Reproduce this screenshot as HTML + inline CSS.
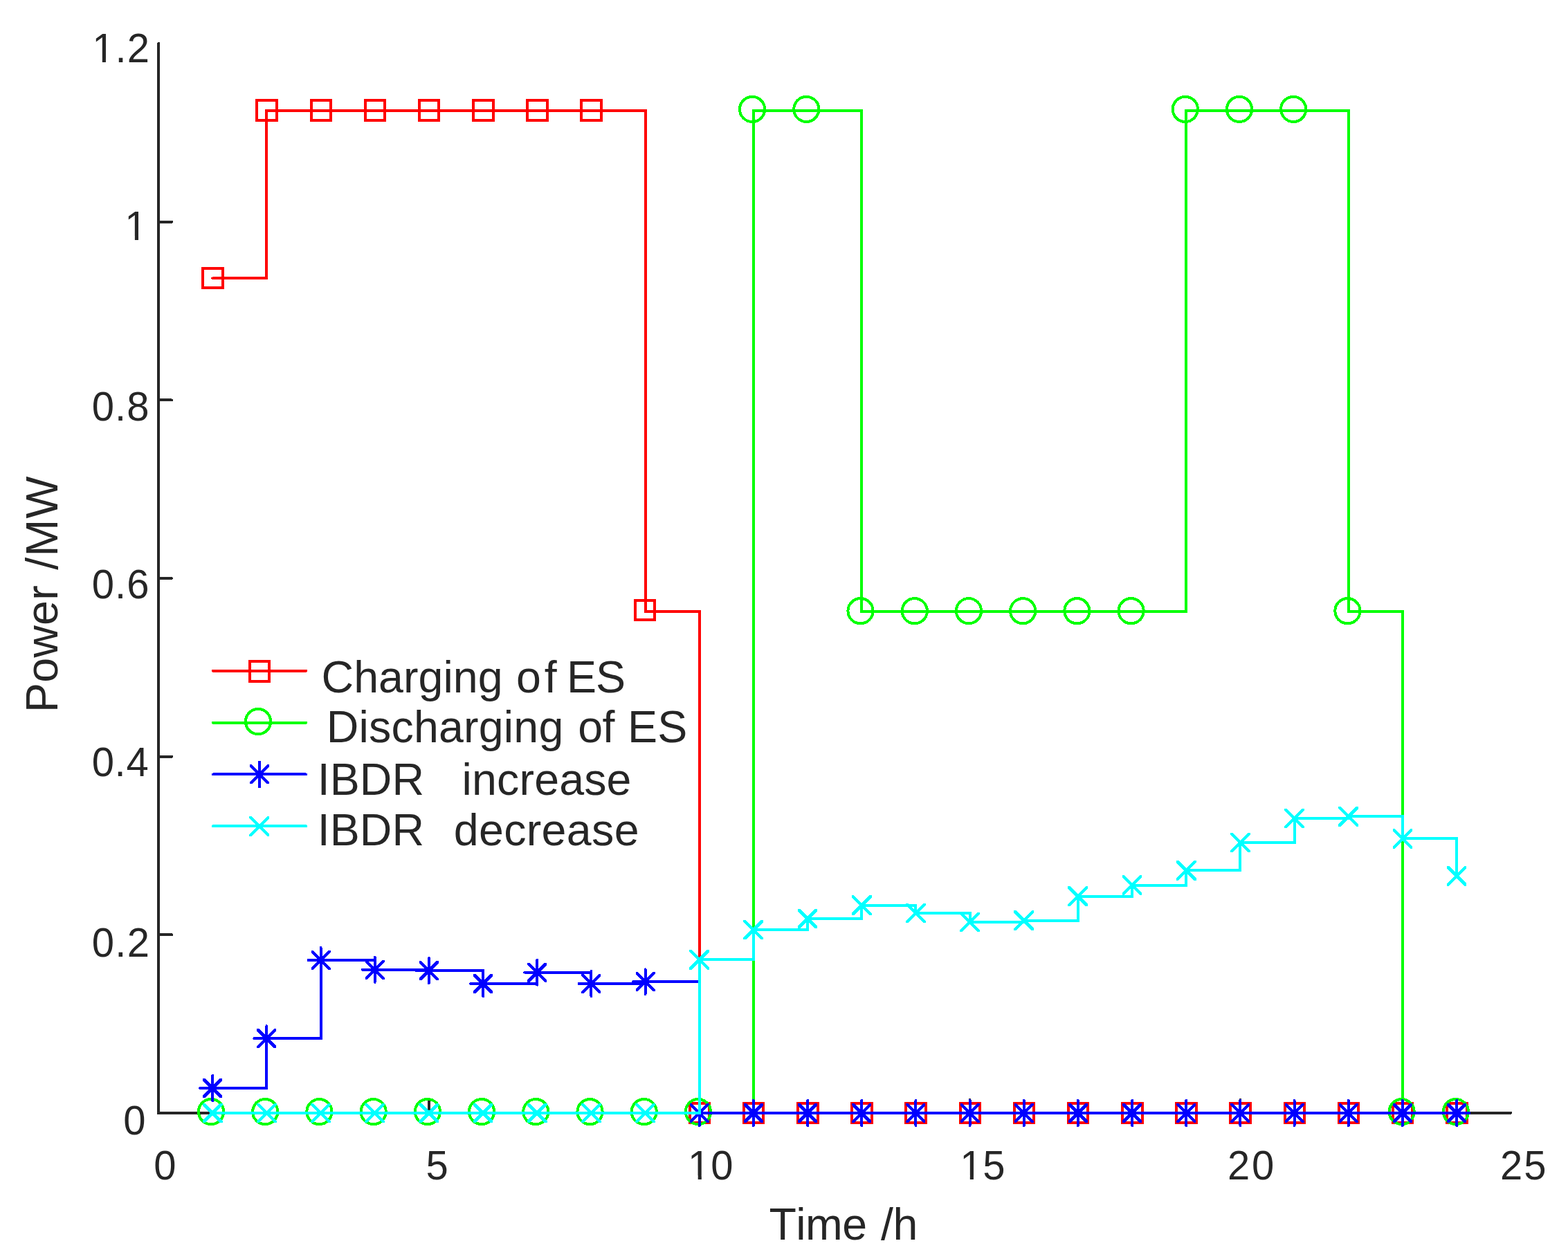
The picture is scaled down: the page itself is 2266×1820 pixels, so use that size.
<!DOCTYPE html>
<html lang="en">
<head>
<meta charset="utf-8">
<title>Power vs Time - ES charging/discharging and IBDR</title>
<style>
html,body{margin:0;padding:0;background:#fff;}
body{width:2266px;height:1820px;overflow:hidden;}
svg{display:block;}
text{font-family:"Liberation Sans","DejaVu Sans",sans-serif;fill:#262626;font-kerning:none;white-space:pre;}
.tk{font-size:59.5px;}
.lb{font-size:64.5px;}
</style>
</head>
<body>
<svg width="2266" height="1820" viewBox="0 0 2266 1820">
<rect x="0" y="0" width="2266" height="1820" fill="#ffffff"/>
<defs>
<rect id="msq" x="-14.2" y="-14.0" width="28.4" height="28.0" fill="none" stroke="currentColor" stroke-width="4.0"/>
<rect id="msq2" x="-14.2" y="-14.9" width="28.4" height="29.0" fill="none" stroke="currentColor" stroke-width="4.0"/>
<circle id="mci" cx="0" cy="0" r="18.1" fill="none" stroke="currentColor" stroke-width="4.0"/>
<path id="dgx" fill="currentColor" stroke="none" d="M-14.4,-14.4 L-11.2,-14.4 L14.4,11.2 L14.4,14.4 L11.2,14.4 L-14.4,-11.2 Z M14.4,-14.4 L14.4,-11.2 L-11.2,14.4 L-14.4,14.4 L-14.4,11.2 L11.2,-14.4 Z"/>
<path id="dga" fill="currentColor" stroke="none" d="M-14,-14 L-10.8,-14 L14,10.8 L14,14 L10.8,14 L-14,-10.8 Z M14,-14 L14,-10.8 L-10.8,14 L-14,14 L-14,10.8 L10.8,-14 Z"/>
<g id="mxx"><use href="#dgx"/></g>
<g id="mas"><path d="M0,-18 L0,18 M-18,0 L18,0" fill="none" stroke="currentColor" stroke-width="4.0" stroke-linecap="round"/><use href="#dga"/></g>
</defs>

<g id="axes" stroke="#262626" stroke-width="4" fill="none" stroke-linecap="round" shape-rendering="crispEdges">
<path d="M229.0,63 L229.0,1609.0 L2183,1609.0" stroke-linejoin="miter"/>
<path d="M229.0,1351.34 L248.00,1351.34"/>
<path d="M229.0,1093.68 L248.00,1093.68"/>
<path d="M229.0,836.02 L248.00,836.02"/>
<path d="M229.0,578.36 L248.00,578.36"/>
<path d="M229.0,320.70 L248.00,320.70"/>
<path d="M619.85,1609.0 L619.85,1590.0"/>
<path d="M1010.7,1609.0 L1010.7,1590.0"/>
<path d="M1401.55,1609.0 L1401.55,1590.0"/>
<path d="M1792.4,1609.0 L1792.4,1590.0"/>
</g>
<g id="yticks">
<text class="tk" transform="translate(133.22,89.90) scale(0.975,1)" letter-spacing="1.155">1.2</text><rect x="134.92" y="84.85" width="12.89" height="6.05" fill="#ffffff"/><rect x="152.93" y="84.85" width="12.01" height="6.05" fill="#ffffff"/>
<text class="tk" transform="translate(180.28,346.70) scale(0.975,1)">1</text><rect x="181.98" y="341.65" width="12.89" height="6.05" fill="#ffffff"/><rect x="200.00" y="341.65" width="12.01" height="6.05" fill="#ffffff"/>
<text class="tk" transform="translate(132.63,607.60) scale(0.975,1)" letter-spacing="1.150">0.8</text>
<text class="tk" transform="translate(132.63,864.60) scale(0.975,1)" letter-spacing="1.164">0.6</text>
<text class="tk" transform="translate(132.63,1121.60) scale(0.975,1)" letter-spacing="0.728">0.4</text>
<text class="tk" transform="translate(132.63,1382.80) scale(0.975,1)" letter-spacing="1.353">0.2</text>
<text class="tk" transform="translate(178.32,1639.50) scale(0.975,1)" letter-spacing="0.000">0</text>
</g>
<g id="xticks">
<text class="tk" transform="translate(222.37,1704.60) scale(0.975,1)" letter-spacing="0.000">0</text>
<text class="tk" transform="translate(615.42,1704.60) scale(0.975,1)" letter-spacing="0.000">5</text>
<text class="tk" transform="translate(994.12,1704.60) scale(0.975,1)" letter-spacing="0.891">10</text><rect x="995.82" y="1699.55" width="12.89" height="6.05" fill="#ffffff"/><rect x="1013.83" y="1699.55" width="12.01" height="6.05" fill="#ffffff"/>
<text class="tk" transform="translate(1387.22,1704.60) scale(0.975,1)" letter-spacing="0.912">15</text><rect x="1388.92" y="1699.55" width="12.89" height="6.05" fill="#ffffff"/><rect x="1406.93" y="1699.55" width="12.01" height="6.05" fill="#ffffff"/>
<text class="tk" transform="translate(1773.98,1704.60) scale(0.975,1)" letter-spacing="2.929">20</text>
<text class="tk" transform="translate(2167.88,1704.60) scale(0.975,1)" letter-spacing="2.129">25</text>
</g>
<text class="lb" y="1792.0"><tspan x="1111.45" letter-spacing="-0.572">Time</tspan><tspan letter-spacing="0"> </tspan><tspan x="1273.10" letter-spacing="-0.603">/h</tspan></text>
<text class="lb" transform="translate(83.0,1024.7) rotate(-90)" y="0"><tspan x="-5.29" letter-spacing="0.210">Power</tspan><tspan letter-spacing="0"> </tspan><tspan x="200.90" letter-spacing="1.347">/MW</tspan></text>
<g id="charging" shape-rendering="crispEdges">
<path d="M307.17,402.30 L385.34,402.30 L385.34,160.10 L463.51,160.10 L541.68,160.10 L619.85,160.10 L698.02,160.10 L776.19,160.10 L854.36,160.10 L932.53,160.10 L932.53,884.20 L1010.70,884.20 L1010.70,1609.00 L1088.87,1609.00 L1167.04,1609.00 L1245.21,1609.00 L1323.38,1609.00 L1401.55,1609.00 L1479.72,1609.00 L1557.89,1609.00 L1636.06,1609.00 L1714.23,1609.00 L1792.40,1609.00 L1870.57,1609.00 L1948.74,1609.00 L2026.91,1609.00 L2105.08,1609.00" fill="none" stroke="#ff0000" stroke-width="4.0" stroke-linejoin="miter" stroke-linecap="round"/>
<g color="#ff0000">
<use href="#msq" x="307.47" y="402.10"/>
<use href="#msq2" x="385.64" y="159.90"/>
<use href="#msq2" x="463.81" y="159.90"/>
<use href="#msq2" x="541.98" y="159.90"/>
<use href="#msq2" x="620.15" y="159.90"/>
<use href="#msq2" x="698.32" y="159.90"/>
<use href="#msq2" x="776.49" y="159.90"/>
<use href="#msq2" x="854.66" y="159.90"/>
<use href="#msq" x="931.83" y="881.50"/>
<use href="#msq" x="1011.00" y="1608.80"/>
<use href="#msq" x="1089.17" y="1608.80"/>
<use href="#msq" x="1167.34" y="1608.80"/>
<use href="#msq" x="1245.51" y="1608.80"/>
<use href="#msq" x="1323.68" y="1608.80"/>
<use href="#msq" x="1401.85" y="1608.80"/>
<use href="#msq" x="1480.02" y="1608.80"/>
<use href="#msq" x="1558.19" y="1608.80"/>
<use href="#msq" x="1636.36" y="1608.80"/>
<use href="#msq" x="1714.53" y="1608.80"/>
<use href="#msq" x="1792.70" y="1608.80"/>
<use href="#msq" x="1870.87" y="1608.80"/>
<use href="#msq" x="1949.04" y="1608.80"/>
<use href="#msq" x="2027.21" y="1608.80"/>
<use href="#msq" x="2105.38" y="1608.80"/>
</g></g>
<g id="discharging" shape-rendering="crispEdges">
<path d="M307.17,1609.00 L385.34,1609.00 L463.51,1609.00 L541.68,1609.00 L619.85,1609.00 L698.02,1609.00 L776.19,1609.00 L854.36,1609.00 L932.53,1609.00 L1010.70,1609.00 L1088.87,1609.00 L1088.87,160.20 L1167.04,160.20 L1245.21,160.20 L1245.21,884.30 L1323.38,884.30 L1401.55,884.30 L1479.72,884.30 L1557.89,884.30 L1636.06,884.30 L1714.23,884.30 L1714.23,160.20 L1792.40,160.20 L1870.57,160.20 L1948.74,160.20 L1948.74,884.30 L2026.91,884.30 L2026.91,1609.00 L2105.08,1609.00" fill="none" stroke="#00ff00" stroke-width="4.0" stroke-linejoin="miter" stroke-linecap="round"/>
<g color="#00ff00">
<use href="#mci" x="305.02" y="1607.10"/>
<use href="#mci" x="383.23" y="1607.10"/>
<use href="#mci" x="461.44" y="1607.10"/>
<use href="#mci" x="539.65" y="1607.10"/>
<use href="#mci" x="617.86" y="1607.10"/>
<use href="#mci" x="696.07" y="1607.10"/>
<use href="#mci" x="774.29" y="1607.10"/>
<use href="#mci" x="852.50" y="1607.10"/>
<use href="#mci" x="930.71" y="1607.10"/>
<use href="#mci" x="1008.92" y="1607.10"/>
<use href="#mci" x="1087.13" y="157.90"/>
<use href="#mci" x="1165.34" y="157.90"/>
<use href="#mci" x="1243.55" y="883.20"/>
<use href="#mci" x="1321.76" y="883.20"/>
<use href="#mci" x="1399.97" y="883.20"/>
<use href="#mci" x="1478.18" y="883.20"/>
<use href="#mci" x="1556.40" y="883.20"/>
<use href="#mci" x="1634.61" y="883.20"/>
<use href="#mci" x="1712.82" y="157.90"/>
<use href="#mci" x="1791.03" y="157.90"/>
<use href="#mci" x="1869.24" y="157.90"/>
<use href="#mci" x="1947.45" y="883.20"/>
<use href="#mci" x="2025.66" y="1607.10"/>
<use href="#mci" x="2103.87" y="1607.10"/>
</g></g>
<g id="ibdr-increase" shape-rendering="crispEdges">
<path d="M307.17,1573.00 L385.34,1573.00 L385.34,1501.20 L463.51,1501.20 L463.51,1388.00 L541.68,1388.00 L541.68,1401.90 L619.85,1401.90 L619.85,1403.20 L698.02,1403.20 L698.02,1422.00 L776.19,1422.00 L776.19,1405.70 L854.36,1405.70 L854.36,1422.00 L932.53,1422.00 L932.53,1419.20 L1010.70,1419.20 L1010.70,1609.00 L1088.87,1609.00 L1167.04,1609.00 L1245.21,1609.00 L1323.38,1609.00 L1401.55,1609.00 L1479.72,1609.00 L1557.89,1609.00 L1636.06,1609.00 L1714.23,1609.00 L1792.40,1609.00 L1870.57,1609.00 L1948.74,1609.00 L2026.91,1609.00 L2105.08,1609.00" fill="none" stroke="#0000ff" stroke-width="4.0" stroke-linejoin="miter" stroke-linecap="round"/>
<g color="#0000ff">
<use href="#mas" x="307.17" y="1573.00"/>
<use href="#mas" x="385.34" y="1501.20"/>
<use href="#mas" x="463.51" y="1388.00"/>
<use href="#mas" x="541.68" y="1401.90"/>
<use href="#mas" x="619.85" y="1403.20"/>
<use href="#mas" x="698.02" y="1422.00"/>
<use href="#mas" x="776.19" y="1405.70"/>
<use href="#mas" x="854.36" y="1422.00"/>
<use href="#mas" x="932.53" y="1419.20"/>
<use href="#mas" x="1010.70" y="1609.00"/>
<use href="#mas" x="1088.87" y="1609.00"/>
<use href="#mas" x="1167.04" y="1609.00"/>
<use href="#mas" x="1245.21" y="1609.00"/>
<use href="#mas" x="1323.38" y="1609.00"/>
<use href="#mas" x="1401.55" y="1609.00"/>
<use href="#mas" x="1479.72" y="1609.00"/>
<use href="#mas" x="1557.89" y="1609.00"/>
<use href="#mas" x="1636.06" y="1609.00"/>
<use href="#mas" x="1714.23" y="1609.00"/>
<use href="#mas" x="1792.40" y="1609.00"/>
<use href="#mas" x="1870.57" y="1609.00"/>
<use href="#mas" x="1948.74" y="1609.00"/>
<use href="#mas" x="2026.91" y="1609.00"/>
<use href="#mas" x="2105.08" y="1609.00"/>
</g></g>
<g id="ibdr-decrease" shape-rendering="crispEdges">
<path d="M307.17,1609.00 L385.34,1609.00 L463.51,1609.00 L541.68,1609.00 L619.85,1609.00 L698.02,1609.00 L776.19,1609.00 L854.36,1609.00 L932.53,1609.00 L1010.70,1609.00 L1010.70,1387.30 L1088.87,1387.30 L1088.87,1344.10 L1167.04,1344.10 L1167.04,1327.90 L1245.21,1327.90 L1245.21,1308.80 L1323.38,1308.80 L1323.38,1320.00 L1401.55,1320.00 L1401.55,1332.90 L1479.72,1332.90 L1479.72,1330.70 L1557.89,1330.70 L1557.89,1295.80 L1636.06,1295.80 L1636.06,1279.50 L1714.23,1279.50 L1714.23,1258.40 L1792.40,1258.40 L1792.40,1217.90 L1870.57,1217.90 L1870.57,1183.00 L1948.74,1183.00 L1948.74,1180.40 L2026.91,1180.40 L2026.91,1212.40 L2105.08,1212.40 L2105.08,1266.20" fill="none" stroke="#00ffff" stroke-width="4.0" stroke-linejoin="miter" stroke-linecap="round"/>
<g color="#00ffff">
<use href="#mxx" x="307.17" y="1609.00"/>
<use href="#mxx" x="385.34" y="1609.00"/>
<use href="#mxx" x="463.51" y="1609.00"/>
<use href="#mxx" x="541.68" y="1609.00"/>
<use href="#mxx" x="619.85" y="1609.00"/>
<use href="#mxx" x="698.02" y="1609.00"/>
<use href="#mxx" x="776.19" y="1609.00"/>
<use href="#mxx" x="854.36" y="1609.00"/>
<use href="#mxx" x="932.53" y="1609.00"/>
<use href="#mxx" x="1010.70" y="1387.30"/>
<use href="#mxx" x="1088.87" y="1344.10"/>
<use href="#mxx" x="1167.04" y="1327.90"/>
<use href="#mxx" x="1245.21" y="1308.80"/>
<use href="#mxx" x="1323.38" y="1320.00"/>
<use href="#mxx" x="1401.55" y="1332.90"/>
<use href="#mxx" x="1479.72" y="1330.70"/>
<use href="#mxx" x="1557.89" y="1295.80"/>
<use href="#mxx" x="1636.06" y="1279.50"/>
<use href="#mxx" x="1714.23" y="1258.40"/>
<use href="#mxx" x="1792.40" y="1217.90"/>
<use href="#mxx" x="1870.57" y="1183.00"/>
<use href="#mxx" x="1948.74" y="1180.40"/>
<use href="#mxx" x="2026.91" y="1212.40"/>
<use href="#mxx" x="2105.08" y="1266.20"/>
</g></g>
<g id="legend" shape-rendering="crispEdges">
<path d="M308,969.9 L442,969.9" stroke="#ff0000" stroke-width="4" stroke-linecap="round" fill="none"/>
<use href="#msq2" x="375.00" y="970.50" color="#ff0000"/>
<text class="lb" y="1001.0"><tspan x="464.52" letter-spacing="0.041">Charging</tspan><tspan letter-spacing="0"> </tspan><tspan x="745.99" letter-spacing="4.772">of</tspan><tspan letter-spacing="0"> </tspan><tspan x="819.11" letter-spacing="-1.091">ES</tspan></text>
<path d="M308,1044.8 L442,1044.8" stroke="#00ff00" stroke-width="4" stroke-linecap="round" fill="none"/>
<use href="#mci" x="373.00" y="1043.10" color="#00ff00"/>
<text class="lb" y="1072.9"><tspan x="471.71" letter-spacing="0.197">Discharging</tspan><tspan letter-spacing="0"> </tspan><tspan x="835.29" letter-spacing="-0.678">of</tspan><tspan letter-spacing="0"> </tspan><tspan x="906.91" letter-spacing="0.209">ES</tspan></text>
<path d="M308,1119.4 L442,1119.4" stroke="#0000ff" stroke-width="4" stroke-linecap="round" fill="none"/>
<use href="#mas" x="374.90" y="1119.40" color="#0000ff"/>
<text class="lb" y="1148.6"><tspan x="458.85" letter-spacing="0.015">IBDR</tspan><tspan letter-spacing="0"> </tspan><tspan x="667.59" letter-spacing="0.155">increase</tspan></text>
<path d="M308,1194.1 L442,1194.1" stroke="#00ffff" stroke-width="4" stroke-linecap="round" fill="none"/>
<use href="#mxx" x="374.90" y="1194.70" color="#00ffff"/>
<text class="lb" y="1221.9"><tspan x="458.85" letter-spacing="0.015">IBDR</tspan><tspan letter-spacing="0"> </tspan><tspan x="655.69" letter-spacing="0.362">decrease</tspan></text>
</g>
</svg>
</body>
</html>
